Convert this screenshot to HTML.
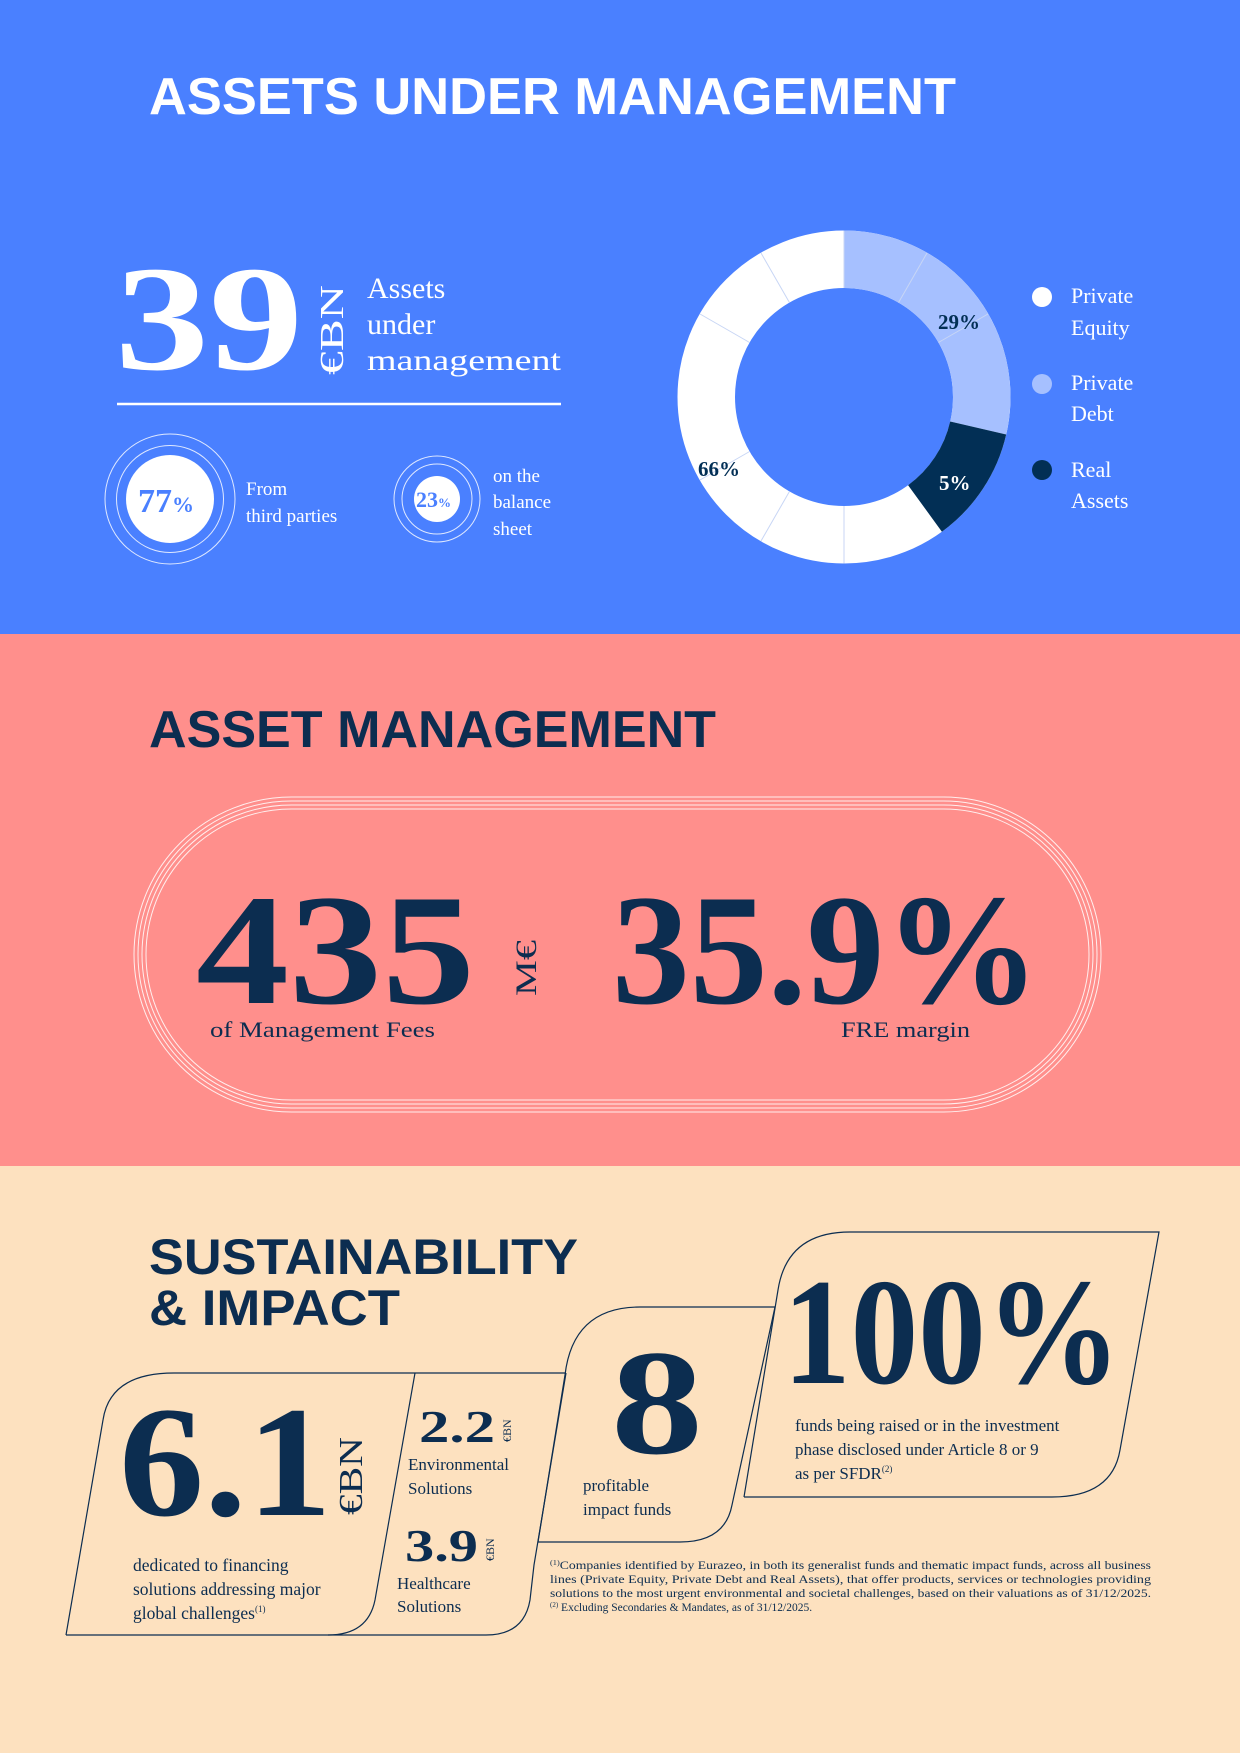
<!DOCTYPE html>
<html><head><meta charset="utf-8"><style>
html,body{margin:0;padding:0;}
svg{display:block;}
.s{font-family:"Liberation Sans",sans-serif;font-weight:bold;}
.f{font-family:"Liberation Serif",serif;}
</style></head><body>
<svg width="1240" height="1753" viewBox="0 0 1240 1753" xmlns="http://www.w3.org/2000/svg">
<rect x="0" y="0" width="1240" height="634" fill="#4a80ff"/>
<rect x="0" y="634" width="1240" height="532" fill="#ff8f8c"/>
<rect x="0" y="1166" width="1240" height="587" fill="#fde1bf"/>

<!-- Section 1 -->
<text class="s" x="149" y="114" font-size="52" fill="#fff" textLength="807" lengthAdjust="spacingAndGlyphs">ASSETS UNDER MANAGEMENT</text>
<text class="f" x="115" y="369" font-size="150" font-weight="bold" fill="#fff" textLength="188" lengthAdjust="spacingAndGlyphs">39</text>
<text class="f" transform="translate(343,375) rotate(-90)" font-size="34" fill="#fff" textLength="90" lengthAdjust="spacingAndGlyphs">€BN</text>
<g class="f" font-size="30" fill="#fff">
<text x="367" y="298">Assets</text>
<text x="367" y="334">under</text>
<text x="367" y="370" textLength="194" lengthAdjust="spacingAndGlyphs">management</text>
</g>
<line x1="117" y1="404" x2="561" y2="404" stroke="#fff" stroke-width="2.5"/>
<circle cx="170" cy="499" r="65" fill="none" stroke="#dfe8ff" stroke-width="1"/>
<circle cx="170" cy="499" r="53.5" fill="none" stroke="#dfe8ff" stroke-width="1"/>
<circle cx="170" cy="499" r="44" fill="#fff"/>
<text class="f" x="138" y="512" font-size="34" font-weight="bold" fill="#4a80ff">77<tspan font-size="22">%</tspan></text>
<g class="f" font-size="19" fill="#fff">
<text x="246" y="495">From</text>
<text x="246" y="522">third parties</text>
</g>
<circle cx="437" cy="499" r="43" fill="none" stroke="#dfe8ff" stroke-width="1"/>
<circle cx="437" cy="499" r="35" fill="none" stroke="#dfe8ff" stroke-width="1"/>
<circle cx="437" cy="499" r="23" fill="#fff"/>
<text class="f" x="416" y="507" font-size="22" font-weight="bold" fill="#4a80ff">23<tspan font-size="13">%</tspan></text>
<g class="f" font-size="19" fill="#fff">
<text x="493" y="482">on the</text>
<text x="493" y="508">balance</text>
<text x="493" y="535">sheet</text>
</g>
<!-- donut -->
<circle cx="844" cy="397" r="137.75" fill="none" stroke="#fff" stroke-width="57.5"/>
<path d="M844,230.5 A166.5,166.5 0 0 1 1006.2,434.5 L950.2,421.5 A109,109 0 0 0 844,288 Z" fill="#a6c0ff"/>
<path d="M1006.2,434.5 A166.5,166.5 0 0 1 941.9,531.7 L908.1,485.2 A109,109 0 0 0 950.2,421.5 Z" fill="#022f55"/>
<g stroke="#c8d6f5" stroke-width="1">
<line x1="844" y1="230.5" x2="844" y2="288"/>
<line x1="844" y1="506" x2="844" y2="563.5"/>
<line x1="927" y1="253" x2="898.5" y2="302.6"/>
<line x1="988" y1="314" x2="938.4" y2="342.5"/>
<line x1="761" y1="541" x2="789.5" y2="491.4"/>
<line x1="700" y1="480" x2="749.6" y2="451.5"/>
<line x1="700" y1="314" x2="749.6" y2="342.5"/>
<line x1="761" y1="253" x2="789.5" y2="302.6"/>
</g>
<g class="f" font-size="21" font-weight="bold">
<text x="938" y="329" fill="#022f55">29%</text>
<text x="939" y="490" fill="#fff">5%</text>
<text x="698" y="476" fill="#022f55">66%</text>
</g>
<circle cx="1042" cy="297" r="10" fill="#fff"/>
<circle cx="1042" cy="384" r="10" fill="#a6c0ff"/>
<circle cx="1042" cy="470" r="10" fill="#022f55"/>
<g class="f" font-size="22" fill="#fff">
<text x="1071" y="303">Private</text>
<text x="1071" y="335">Equity</text>
<text x="1071" y="390">Private</text>
<text x="1071" y="421">Debt</text>
<text x="1071" y="477">Real</text>
<text x="1071" y="508">Assets</text>
</g>

<!-- Section 2 -->
<text class="s" x="149" y="747" font-size="52" fill="#0c2d50" textLength="567" lengthAdjust="spacingAndGlyphs">ASSET MANAGEMENT</text>
<g fill="none" stroke="#fff" stroke-width="1" opacity="0.85">
<rect x="134" y="797" width="967" height="315" rx="157.5"/>
<rect x="138" y="801" width="959" height="307" rx="153.5"/>
<rect x="142" y="805" width="951" height="299" rx="149.5"/>
<rect x="146" y="809" width="943" height="291" rx="145.5"/>
</g>
<text class="f" x="196" y="1003" font-size="158" font-weight="bold" fill="#0c2d50" textLength="279" lengthAdjust="spacingAndGlyphs">435</text>
<text class="f" transform="translate(536,996) rotate(-90)" font-size="30" fill="#0c2d50" textLength="56" lengthAdjust="spacingAndGlyphs">M€</text>
<text class="f" x="612" y="1003" font-size="158" font-weight="bold" fill="#0c2d50" textLength="428" lengthAdjust="spacingAndGlyphs">35.9%</text>
<text class="f" x="210" y="1037" font-size="22" fill="#0c2d50" textLength="225" lengthAdjust="spacingAndGlyphs">of Management Fees</text>
<text class="f" x="841" y="1037" font-size="22" fill="#0c2d50" textLength="129" lengthAdjust="spacingAndGlyphs">FRE margin</text>

<!-- Section 3 -->
<text class="s" x="149" y="1274" font-size="50" fill="#0c2d50" textLength="429" lengthAdjust="spacingAndGlyphs">SUSTAINABILITY</text>
<text class="s" x="149" y="1325" font-size="50" fill="#0c2d50" textLength="251" lengthAdjust="spacingAndGlyphs">&amp; IMPACT</text>
<g fill="none" stroke="#0c2d50" stroke-width="1.2">
<path d="M66,1635 L103,1420 Q110,1373 174,1373 L566,1373"/>
<path d="M415,1373 L375,1600 Q368,1635 328,1635"/>
<path d="M66,1635 L486,1635"/>
<path d="M566,1373 L534,1565 L530,1600 Q524,1635 486,1635"/>
<path d="M538,1542 L565,1375 Q573,1307 640,1307 L775,1307"/>
<path d="M538,1542 L680,1542 Q725,1542 732,1505 L775,1307"/>
<path d="M744,1497 L778,1290 Q787,1232 850,1232 L1159,1232 L1120,1450 Q1112,1497 1052,1497 L744,1497"/>
</g>
<text class="f" x="119" y="1515" font-size="158" font-weight="bold" fill="#0c2d50" textLength="213" lengthAdjust="spacingAndGlyphs">6.1</text>
<text class="f" transform="translate(362,1515) rotate(-90)" font-size="34" fill="#0c2d50" textLength="78" lengthAdjust="spacingAndGlyphs">€BN</text>
<g class="f" font-size="17.5" fill="#0c2d50">
<text x="133" y="1571">dedicated to financing</text>
<text x="133" y="1595">solutions addressing major</text>
<text x="133" y="1619">global challenges<tspan font-size="9" dy="-7">(1)</tspan></text>
</g>
<text class="f" x="419" y="1442" font-size="46" font-weight="bold" fill="#0c2d50" textLength="76" lengthAdjust="spacingAndGlyphs">2.2</text>
<text class="f" transform="translate(511,1442) rotate(-90)" font-size="12" fill="#0c2d50">€BN</text>
<g class="f" font-size="17" fill="#0c2d50">
<text x="408" y="1470">Environmental</text>
<text x="408" y="1494">Solutions</text>
</g>
<text class="f" x="405" y="1561" font-size="46" font-weight="bold" fill="#0c2d50" textLength="73" lengthAdjust="spacingAndGlyphs">3.9</text>
<text class="f" transform="translate(494,1561) rotate(-90)" font-size="12" fill="#0c2d50">€BN</text>
<g class="f" font-size="17" fill="#0c2d50">
<text x="397" y="1589">Healthcare</text>
<text x="397" y="1612">Solutions</text>
</g>
<text class="f" x="611" y="1453" font-size="150" font-weight="bold" fill="#0c2d50" textLength="92" lengthAdjust="spacingAndGlyphs">8</text>
<g class="f" font-size="17" fill="#0c2d50">
<text x="583" y="1491">profitable</text>
<text x="583" y="1515">impact funds</text>
</g>
<text class="f" x="783" y="1383" font-size="152" font-weight="bold" fill="#0c2d50" textLength="338" lengthAdjust="spacingAndGlyphs">100%</text>
<g class="f" font-size="17" fill="#0c2d50">
<text x="795" y="1431">funds being raised or in the investment</text>
<text x="795" y="1455">phase disclosed under Article 8 or 9</text>
<text x="795" y="1479">as per SFDR<tspan font-size="9" dy="-7">(2)</tspan></text>
</g>
<g class="f" font-size="11.5" fill="#0c2d50">
<text x="550" y="1569" textLength="601" lengthAdjust="spacingAndGlyphs"><tspan font-size="7" dy="-4">(1)</tspan><tspan dy="4">Companies identified by Eurazeo, in both its generalist funds and thematic impact funds, across all business</tspan></text>
<text x="550" y="1583" textLength="601" lengthAdjust="spacingAndGlyphs">lines (Private Equity, Private Debt and Real Assets), that offer products, services or technologies providing</text>
<text x="550" y="1597" textLength="601" lengthAdjust="spacingAndGlyphs">solutions to the most urgent environmental and societal challenges, based on their valuations as of 31/12/2025.</text>
<text x="550" y="1611"><tspan font-size="7" dy="-4">(2)</tspan><tspan dy="4"> Excluding Secondaries &amp; Mandates, as of 31/12/2025.</tspan></text>
</g>
</svg>
</body></html>
